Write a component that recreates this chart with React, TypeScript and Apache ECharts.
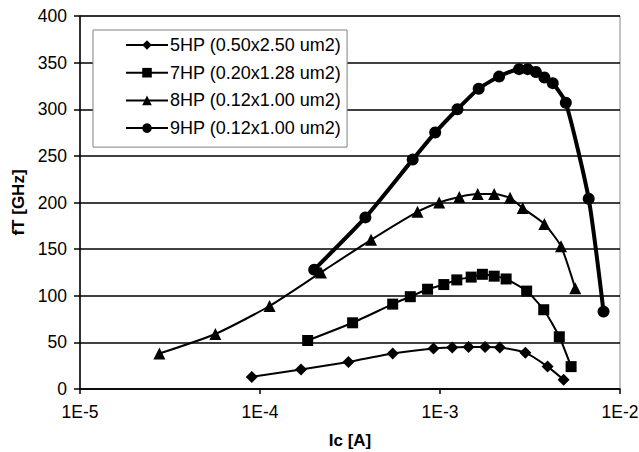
import React, { useEffect, useRef } from "react";
import * as echarts from "echarts";

const seriesNames = [
  "5HP (0.50x2.50 um2)",
  "7HP (0.20x1.28 um2)",
  "8HP (0.12x1.00 um2)",
  "9HP (0.12x1.00 um2)",
];

const ic5HP = [9.0e-5, 1.69e-4, 3.1e-4, 5.46e-4, 9.2e-4, 1.17e-3, 1.44e-3, 1.78e-3, 2.15e-3, 2.98e-3, 3.96e-3, 4.86e-3];
const ft5HP = [13, 21, 29, 38, 43.5, 44.5, 45, 45, 44.5, 39, 24, 10];

const ic7HP = [1.84e-4, 3.27e-4, 5.46e-4, 6.84e-4, 8.53e-4, 1.05e-3, 1.24e-3, 1.49e-3, 1.72e-3, 2.0e-3, 2.33e-3, 3.03e-3, 3.77e-3, 4.6e-3, 5.35e-3];
const ft7HP = [52, 71, 91, 99, 107, 112, 117, 120, 123, 121, 118, 105, 85, 56, 24];

const ic8HP = [2.76e-5, 5.65e-5, 1.13e-4, 2.18e-4, 4.14e-4, 7.5e-4, 9.9e-4, 1.28e-3, 1.62e-3, 2.0e-3, 2.45e-3, 2.88e-3, 3.8e-3, 4.7e-3, 5.64e-3];
const ft8HP = [38, 59, 89, 125, 160, 190, 200, 206, 209, 209, 205, 194, 177, 153, 108];

const ic9HP = [2.0e-4, 3.85e-4, 7.05e-4, 9.4e-4, 1.25e-3, 1.64e-3, 2.13e-3, 2.75e-3, 3.07e-3, 3.41e-3, 3.8e-3, 4.23e-3, 5.0e-3, 6.7e-3, 8.1e-3];
const ft9HP = [128, 184, 246, 275, 300, 322, 335, 343, 343, 340, 334, 328, 307, 204, 83];

const xTicks = ["1E-5", "1E-4", "1E-3", "1E-2"];

const FONT = "'Liberation Sans', Arial, sans-serif";

function pairs(xs: number[], ys: number[]) {
  return xs.map((x, i) => [x, ys[i]]);
}

export default function App() {
  const ref = useRef<HTMLDivElement>(null);
  useEffect(() => {
    if (!ref.current) return;
    const chart = echarts.init(ref.current, null, { renderer: "svg" });
    const mk = (name: string, xs: number[], ys: number[], symbol: string, size: number, width: number) => ({
      name,
      type: "line",
      data: pairs(xs, ys),
      symbol,
      symbolSize: size,
      smooth: 0.2,
      lineStyle: { color: "#000", width },
      itemStyle: { color: "#000" },
      z: 3,
    });
    chart.setOption({
      animation: false,
      backgroundColor: "#fff",
      grid: {
        left: 80,
        right: 19,
        top: 16,
        bottom: 63,
        outerBoundsMode: "none",
        containLabel: false,
        show: true,
        borderColor: "#888",
        borderWidth: 1,
        backgroundColor: "transparent",
      },
      legend: {
        orient: "vertical",
        left: 93,
        top: 30,
        padding: [5, 6, 9, 32],
        itemGap: 7.7,
        itemWidth: 42,
        itemHeight: 12,
        backgroundColor: "#fff",
        borderColor: "#808080",
        borderWidth: 1,
        borderRadius: 0,
        data: seriesNames,
        textStyle: { fontFamily: FONT, fontSize: 18, color: "#000", lineHeight: 20, padding: [0, 0, 0, -3] },
        z: 10,
      },
      xAxis: {
        type: "log",
        logBase: 10,
        min: 1e-5,
        max: 1e-2,
        name: "Ic [A]",
        nameLocation: "middle",
        nameGap: 42,
        nameTextStyle: { fontFamily: FONT, fontSize: 17, fontWeight: "bold", color: "#000", lineHeight: 18 },
        axisLine: { show: true, onZero: false, lineStyle: { color: "#000", width: 1.5 } },
        axisTick: { show: true, length: 5, lineStyle: { color: "#000", width: 1.5 } },
        minorTick: { show: false },
        splitLine: { show: false },
        axisLabel: {
          fontFamily: FONT,
          fontSize: 17.5,
          color: "#000",
          margin: 14,
          formatter: (v: number) => xTicks[Math.round(Math.log10(v)) + 5] ?? "",
        },
      },
      yAxis: {
        type: "value",
        min: 0,
        max: 400,
        interval: 50,
        name: "fT [GHz]",
        nameLocation: "middle",
        nameGap: 52,
        nameTextStyle: { fontFamily: FONT, fontSize: 17, fontWeight: "bold", color: "#000" },
        axisLine: { show: true, lineStyle: { color: "#000", width: 1.5 } },
        axisTick: { show: true, length: 6, lineStyle: { color: "#000", width: 1.5 } },
        splitLine: { show: true, lineStyle: { color: "#000", width: 1.5 } },
        axisLabel: { fontFamily: FONT, fontSize: 17.5, color: "#000", margin: 13 },
      },
      series: [
        mk(seriesNames[0], ic5HP, ft5HP, "diamond", 12, 2),
        mk(seriesNames[1], ic7HP, ft7HP, "rect", 11, 2),
        mk(seriesNames[2], ic8HP, ft8HP, "triangle", 12, 2),
        mk(seriesNames[3], ic9HP, ft9HP, "circle", 12, 4),
      ],
    });
    return () => chart.dispose();
  }, []);
  return <div ref={ref} style={{ width: 639, height: 452, position: "absolute", left: 0, top: 0 }} />;
}
